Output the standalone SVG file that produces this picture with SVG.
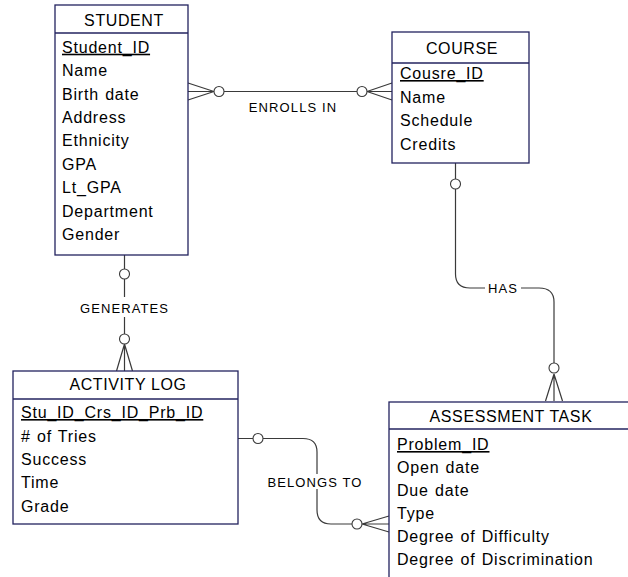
<svg xmlns="http://www.w3.org/2000/svg" width="628" height="577" viewBox="0 0 628 577">
  <defs>
    <style>
      .box { fill: #ffffff; stroke: #23235f; stroke-width: 1.3; }
      .sep { stroke: #23235f; stroke-width: 1.3; }
      .title { font-family: "Liberation Sans", Arial, sans-serif; font-size: 16px; letter-spacing: 0.6px; fill: #000; text-anchor: middle; }
      .attr { font-family: "Liberation Sans", Arial, sans-serif; font-size: 16px; letter-spacing: 0.8px; word-spacing: 1px; fill: #000; }
      .pk { text-decoration: underline; }
      .lbl { font-family: "Liberation Sans", Arial, sans-serif; font-size: 13px; letter-spacing: 1.1px; fill: #000; text-anchor: middle; }
      .ln { fill: none; stroke: #3a3a3a; stroke-width: 1.2; }
      .ring { fill: #ffffff; stroke: #3a3a3a; stroke-width: 1.1; }
    </style>
  </defs>
  <rect width="628" height="577" fill="#ffffff"/>

  <g id="connectors">
    <g id="enrolls-in">
      <path class="ln" d="M188,83 L214,91.5 M188,91.5 H214 M188,100 L214,91.5"/>
      <path class="ln" d="M224,91.5 H357"/>
      <circle class="ring" cx="219" cy="91.5" r="5"/>
      <circle class="ring" cx="362" cy="91.5" r="5"/>
      <path class="ln" d="M367,91.5 L392,83 M367,91.5 H392 M367,91.5 L392,100"/>
      <text class="lbl" x="293" y="111.5">ENROLLS IN</text>
    </g>
    <g id="generates">
      <path class="ln" d="M124.5,255 V269 M124.5,279 V297 M124.5,317 V334"/>
      <circle class="ring" cx="124.5" cy="274" r="5"/>
      <circle class="ring" cx="124.5" cy="339" r="5"/>
      <path class="ln" d="M124.5,344 L116.5,371 M124.5,344 V371 M124.5,344 L132.5,371"/>
      <text class="lbl" x="124.5" y="313">GENERATES</text>
    </g>
    <g id="has">
      <path class="ln" d="M455.5,163 V179 M455.5,189 V274 Q455.5,288 470,288 H485 M521,288 H539 Q554,288 554,302 V363"/>
      <circle class="ring" cx="455.5" cy="184" r="5"/>
      <circle class="ring" cx="554" cy="368" r="5"/>
      <path class="ln" d="M554,374 L545.5,401 M554,374 V401 M554,374 L562.5,401"/>
      <text class="lbl" x="503" y="293">HAS</text>
    </g>
    <g id="belongs-to">
      <path class="ln" d="M238,438.5 H253 M263,438.5 H303 Q317,438.5 317,452 V474 M317,489 V510 Q317,524 331,524 H352"/>
      <circle class="ring" cx="258" cy="438.5" r="5"/>
      <circle class="ring" cx="357" cy="524" r="5"/>
      <path class="ln" d="M362,524 L389,516 M362,524 H389 M362,524 L389,532"/>
      <text class="lbl" x="315" y="486.5">BELONGS TO</text>
    </g>
  </g>

  <g id="student">
    <rect class="box" x="55" y="5" width="133" height="250"/>
    <line class="sep" x1="55" y1="33" x2="188" y2="33"/>
    <text class="title" x="124" y="26">STUDENT</text>
    <text class="attr pk" x="62" y="52.7">Student_ID</text>
    <text class="attr" x="62" y="76.1">Name</text>
    <text class="attr" x="62" y="99.5">Birth date</text>
    <text class="attr" x="62" y="122.9">Address</text>
    <text class="attr" x="62" y="146.3">Ethnicity</text>
    <text class="attr" x="62" y="169.7">GPA</text>
    <text class="attr" x="62" y="193.1">Lt_GPA</text>
    <text class="attr" x="62" y="216.5">Department</text>
    <text class="attr" x="62" y="239.9">Gender</text>
  </g>

  <g id="course">
    <rect class="box" x="392" y="32" width="137" height="131"/>
    <line class="sep" x1="392" y1="63" x2="529" y2="63"/>
    <text class="title" x="462" y="53.5">COURSE</text>
    <text class="attr pk" x="400" y="79">Cousre_ID</text>
    <text class="attr" x="400" y="102.5">Name</text>
    <text class="attr" x="400" y="126">Schedule</text>
    <text class="attr" x="400" y="149.5">Credits</text>
  </g>

  <g id="activity-log">
    <rect class="box" x="13" y="371" width="225" height="153"/>
    <line class="sep" x1="13" y1="399" x2="238" y2="399"/>
    <text class="title" x="128" y="390">ACTIVITY LOG</text>
    <text class="attr pk" x="21" y="418">Stu_ID_Crs_ID_Prb_ID</text>
    <text class="attr" x="21" y="441.5">#&#160;of Tries</text>
    <text class="attr" x="21" y="465">Success</text>
    <text class="attr" x="21" y="488.3">Time</text>
    <text class="attr" x="21" y="511.7">Grade</text>
  </g>

  <g id="assessment-task">
    <rect class="box" x="389" y="402" width="245" height="185"/>
    <line class="sep" x1="389" y1="429" x2="634" y2="429"/>
    <text class="title" x="511" y="421.5">ASSESSMENT TASK</text>
    <text class="attr pk" x="397" y="450">Problem_ID</text>
    <text class="attr" x="397" y="473">Open date</text>
    <text class="attr" x="397" y="496">Due date</text>
    <text class="attr" x="397" y="519">Type</text>
    <text class="attr" x="397" y="542">Degree of Difficulty</text>
    <text class="attr" x="397" y="565">Degree of Discrimination</text>
  </g>
</svg>
